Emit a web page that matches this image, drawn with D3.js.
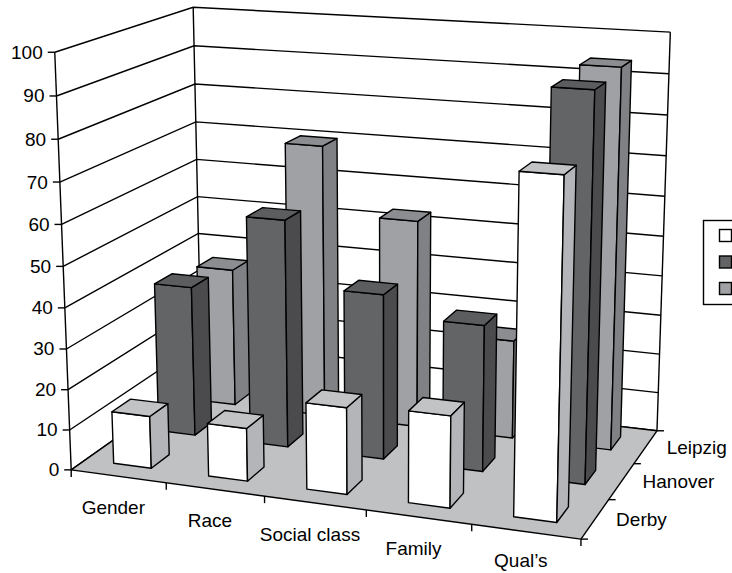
<!DOCTYPE html>
<html><head><meta charset="utf-8">
<script src="https://cdn.jsdelivr.net/npm/d3@7"></script>
<style>
html,body{margin:0;padding:0;background:#fff;}
svg{display:block;}
text{font-family:"Liberation Sans",Arial,Helvetica,sans-serif;}
</style></head><body>
<svg id="chart" width="732" height="573"></svg>
<script>
const categories = ["Gender", "Race", "Social class", "Family", "Qual\u2019s"];
const series = ["Derby", "Hanover", "Leipzig"];
const derby = [13, 13, 21, 22, 79];
const hanover = [38, 57, 41, 36, 93];
const leipzig = [36, 70, 53, 25, 94];
const valueTicks = [0, 10, 20, 30, 40, 50, 60, 70, 80, 90, 100];

const svg = d3.select("#chart");
const SW = 1.4;

// world space: x = category units, y = scaled value, z = series depth units
const xBand = d3.scaleBand().domain(categories).range([0, 5]).paddingInner(0.6).paddingOuter(0.3);
const zBand = d3.scaleBand().domain(series).range([0, 3]).paddingInner(0.6).paddingOuter(0.3);
const yScale = d3.scaleLinear().domain([0, 100]).range([0, 5]);

// where the corners of the plot cube sit on the page: [category, value, depth] -> [px, py]
const cubeFrame = [
  [[0, 0, 0], [71.5, 469.3]],
  [[0, 100, 0], [54, 52]],
  [[0, 100, 3], [195, 7]],
  [[5, 100, 3], [670, 33]],
  [[5, 0, 3], [657, 431]],
  [[5, 0, 0], [580, 540]],
  [[1, 0, 0], [166.7, 482.5]],
  [[2, 0, 0], [265, 496]],
  [[3, 0, 0], [367, 510]],
  [[4, 0, 0], [471.7, 524.5]],
  [[0, 50, 0], [63, 266.5]],
  [[5, 50, 3], [664, 234.3]],
  [[0, 50, 3], [195.5, 197.7]]
];

function solveLinear(A, b) {
  const n = b.length;
  const M = A.map((row, i) => [...row, b[i]]);
  for (let c = 0; c < n; c++) {
    let piv = c;
    for (let r = c + 1; r < n; r++) if (Math.abs(M[r][c]) > Math.abs(M[piv][c])) piv = r;
    [M[c], M[piv]] = [M[piv], M[c]];
    for (let r = 0; r < n; r++) {
      if (r === c) continue;
      const f = M[r][c] / M[c][c];
      for (let k = c; k <= n; k++) M[r][k] -= f * M[c][k];
    }
  }
  return M.map((row, i) => row[n] / row[i]);
}

// perspective camera (3x4 matrix) fitted to the cube frame by least squares
const P = (() => {
  const AtA = Array.from({length: 11}, () => new Array(11).fill(0));
  const Atb = new Array(11).fill(0);
  const add = (row, rhs) => {
    for (let i = 0; i < 11; i++) {
      Atb[i] += row[i] * rhs;
      for (let j = 0; j < 11; j++) AtA[i][j] += row[i] * row[j];
    }
  };
  cubeFrame.forEach(([[c, v, d], [u, w]]) => {
    const X = c, Y = yScale(v), Z = d;
    add([X, Y, Z, 1, 0, 0, 0, 0, -u * X, -u * Y, -u * Z], u);
    add([0, 0, 0, 0, X, Y, Z, 1, -w * X, -w * Y, -w * Z], w);
  });
  const p = solveLinear(AtA, Atb);
  return [[p[0], p[1], p[2], p[3]], [p[4], p[5], p[6], p[7]], [p[8], p[9], p[10], 1]];
})();

function project(X, Y, Z) {
  const w = P[2][0] * X + P[2][1] * Y + P[2][2] * Z + P[2][3];
  return [
    (P[0][0] * X + P[0][1] * Y + P[0][2] * Z + P[0][3]) / w,
    (P[1][0] * X + P[1][1] * Y + P[1][2] * Z + P[1][3]) / w
  ];
}
const pt = (c, v, d) => project(c, yScale(v), d);

// camera centre: used to decide which faces of a column are visible
const eye = solveLinear(P.map(r => r.slice(0, 3)), P.map(r => -r[3]));

const line = d3.line();
const poly = pts => "M" + pts.map(p => p.join(",")).join("L") + "Z";

const gWalls = svg.append("g");
// side wall and back wall
gWalls.append("path").attr("d", poly([pt(0, 0, 0), pt(0, 100, 0), pt(0, 100, 3), pt(0, 0, 3)]))
  .attr("fill", "#fff");
gWalls.append("path").attr("d", poly([pt(0, 0, 3), pt(0, 100, 3), pt(5, 100, 3), pt(5, 0, 3)]))
  .attr("fill", "#fff");
// gridlines
gWalls.selectAll(".grid").data(valueTicks).join("path")
  .attr("d", v => line([pt(0, v, 0), pt(0, v, 3), pt(5, v, 3)]))
  .attr("fill", "none").attr("stroke", "#000").attr("stroke-width", SW);
gWalls.append("path").attr("d", line([pt(0, 0, 3), pt(0, 100, 3)]))
  .attr("stroke", "#000").attr("stroke-width", SW);
gWalls.append("path").attr("d", line([pt(5, 0, 3), pt(5, 100, 3)]))
  .attr("stroke", "#000").attr("stroke-width", SW);
// floor
gWalls.append("path").attr("d", poly([pt(0, 0, 0), pt(5, 0, 0), pt(5, 0, 3), pt(0, 0, 3)]))
  .attr("fill", "#c0c1c3").attr("stroke", "#000").attr("stroke-width", SW).attr("stroke-linejoin", "round");

// axes
const gAxes = svg.append("g").attr("stroke", "#000").attr("stroke-width", SW);
gAxes.append("path").attr("d", line([pt(0, 0, 0), pt(0, 100, 0)]));
valueTicks.forEach(v => {
  const [x, y] = pt(0, v, 0);
  gAxes.append("path").attr("d", line([[x - 7, y], [x, y]]));
});
d3.range(0, 6).forEach(i => {
  const [x, y] = pt(i, 0, 0);
  gAxes.append("path").attr("d", line([[x, y], [x, y + 7]]));
});
d3.range(0, 4).forEach(i => {
  const [x, y] = pt(5, 0, i);
  gAxes.append("path").attr("d", line([[x, y], [x + 7, y]]));
});

const labels = svg.append("g").attr("font-size", 19).attr("fill", "#000");
valueTicks.forEach(v => {
  const [x, y] = pt(0, v, 0);
  labels.append("text").attr("x", x - 12).attr("y", y + 6.5).attr("text-anchor", "end").text(v);
});
categories.forEach(c => {
  const [x, y] = project(xBand(c) + xBand.bandwidth() / 2, 0, 0);
  labels.append("text").attr("x", x - 5).attr("y", Math.min(y + 38, 567)).attr("text-anchor", "middle").text(c);
});
series.forEach(s => {
  const [x, y] = project(5, 0, zBand(s) + zBand.bandwidth() / 2);
  labels.append("text").attr("x", x + 21).attr("y", y + 7).text(s);
});

// columns, painted back row first and left to right
const palette = {
  Derby:   {front: "#ffffff", side: "#b3b5b8", top: "#c2c3c5"},
  Hanover: {front: "#636466", side: "#4b4b4d", top: "#5c5d5f"},
  Leipzig: {front: "#a0a1a4", side: "#808184", top: "#8c8d90"}
};
const valuesBySeries = {Derby: derby, Hanover: hanover, Leipzig: leipzig};
const gBars = svg.append("g").attr("stroke", "#000").attr("stroke-width", SW).attr("stroke-linejoin", "round");
[...series].reverse().forEach(s => {
  const z0 = zBand(s), z1 = z0 + zBand.bandwidth();
  categories.forEach((c, i) => {
    const v = valuesBySeries[s][i];
    const x0 = xBand(c), x1 = x0 + xBand.bandwidth();
    const y0 = 0, y1 = yScale(v);
    const faces = [];
    if (eye[2] > z1) faces.push(["side", [project(x0, y0, z1), project(x1, y0, z1), project(x1, y1, z1), project(x0, y1, z1)]]);
    if (eye[0] < x0) faces.push(["side", [project(x0, y0, z0), project(x0, y0, z1), project(x0, y1, z1), project(x0, y1, z0)]]);
    if (eye[2] < z0) faces.push(["front", [project(x0, y0, z0), project(x1, y0, z0), project(x1, y1, z0), project(x0, y1, z0)]]);
    if (eye[0] > x1) faces.push(["side", [project(x1, y0, z0), project(x1, y0, z1), project(x1, y1, z1), project(x1, y1, z0)]]);
    if (eye[1] > y1) faces.push(["top", [project(x0, y1, z0), project(x1, y1, z0), project(x1, y1, z1), project(x0, y1, z1)]]);
    faces.forEach(([k, pts]) => gBars.append("path").attr("d", poly(pts)).attr("fill", palette[s][k]));
  });
});

// legend (runs past the right edge of the page)
const legend = svg.append("g");
legend.append("rect").attr("x", 703.5).attr("y", 220.5).attr("width", 110).attr("height", 84)
  .attr("fill", "#fff").attr("stroke", "#000").attr("stroke-width", SW);
series.forEach((s, i) => {
  legend.append("rect").attr("x", 719.5).attr("y", 229.5 + i * 26.5).attr("width", 12).attr("height", 12)
    .attr("fill", palette[s].front).attr("stroke", "#000").attr("stroke-width", SW);
});
</script>
</body></html>
